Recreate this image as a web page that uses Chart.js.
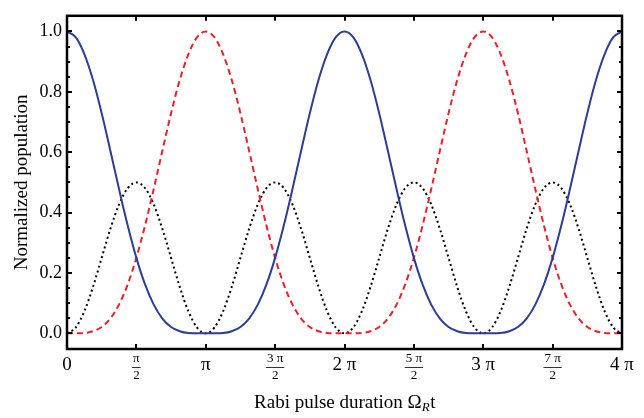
<!DOCTYPE html>
<html>
<head>
<meta charset="utf-8">
<script src="https://cdn.jsdelivr.net/npm/chart.js@4.4.1/dist/chart.umd.min.js"></script>
<style>
  html, body { margin: 0; padding: 0; background: #fff; }
  #wrap { width: 644px; height: 418px; position: relative; }
</style>
</head>
<body>
<div id="wrap"><canvas id="rabi"></canvas></div>
<script>
// pulse duration, in units of pi
var pulse = [0, 0.0625, 0.125, 0.1875, 0.25, 0.3125, 0.375, 0.4375, 0.5, 0.5625, 0.625, 0.6875, 0.75, 0.8125, 0.875, 0.9375,
    1, 1.0625, 1.125, 1.1875, 1.25, 1.3125, 1.375, 1.4375, 1.5, 1.5625, 1.625, 1.6875, 1.75, 1.8125, 1.875, 1.9375,
    2, 2.0625, 2.125, 2.1875, 2.25, 2.3125, 2.375, 2.4375, 2.5, 2.5625, 2.625, 2.6875, 2.75, 2.8125, 2.875, 2.9375,
    3, 3.0625, 3.125, 3.1875, 3.25, 3.3125, 3.375, 3.4375, 3.5, 3.5625, 3.625, 3.6875, 3.75, 3.8125, 3.875, 3.9375, 4];

var ground = [1.000, 0.981, 0.925, 0.839, 0.729, 0.605, 0.478, 0.357, 0.250, 0.162, 0.095, 0.049, 0.021, 0.007, 0.001, 0.000,
    0.000, 0.000, 0.001, 0.007, 0.021, 0.049, 0.095, 0.162, 0.250, 0.357, 0.478, 0.605, 0.729, 0.839, 0.925, 0.981,
    1.000, 0.981, 0.925, 0.839, 0.729, 0.605, 0.478, 0.357, 0.250, 0.162, 0.095, 0.049, 0.021, 0.007, 0.001, 0.000,
    0.000, 0.000, 0.001, 0.007, 0.021, 0.049, 0.095, 0.162, 0.250, 0.357, 0.478, 0.605, 0.729, 0.839, 0.925, 0.981, 1.000];

var excited = [0.000, 0.000, 0.001, 0.007, 0.021, 0.049, 0.095, 0.162, 0.250, 0.357, 0.478, 0.605, 0.729, 0.839, 0.925, 0.981,
    1.000, 0.981, 0.925, 0.839, 0.729, 0.605, 0.478, 0.357, 0.250, 0.162, 0.095, 0.049, 0.021, 0.007, 0.001, 0.000,
    0.000, 0.000, 0.001, 0.007, 0.021, 0.049, 0.095, 0.162, 0.250, 0.357, 0.478, 0.605, 0.729, 0.839, 0.925, 0.981,
    1.000, 0.981, 0.925, 0.839, 0.729, 0.605, 0.478, 0.357, 0.250, 0.162, 0.095, 0.049, 0.021, 0.007, 0.001, 0.000, 0.000];

var middle = [0.000, 0.019, 0.073, 0.154, 0.250, 0.346, 0.427, 0.481, 0.500, 0.481, 0.427, 0.346, 0.250, 0.154, 0.073, 0.019,
    0.000, 0.019, 0.073, 0.154, 0.250, 0.346, 0.427, 0.481, 0.500, 0.481, 0.427, 0.346, 0.250, 0.154, 0.073, 0.019,
    0.000, 0.019, 0.073, 0.154, 0.250, 0.346, 0.427, 0.481, 0.500, 0.481, 0.427, 0.346, 0.250, 0.154, 0.073, 0.019,
    0.000, 0.019, 0.073, 0.154, 0.250, 0.346, 0.427, 0.481, 0.500, 0.481, 0.427, 0.346, 0.250, 0.154, 0.073, 0.019, 0.000];

var xTicks = [0, 0.5, 1, 1.5, 2, 2.5, 3, 3.5, 4];
// [numerator, denominator]; denominator null means a plain label
var xTickLabels = [["0", null], ["\u03c0", "2"], ["\u03c0", null], ["3 \u03c0", "2"], ["2 \u03c0", null],
    ["5 \u03c0", "2"], ["3 \u03c0", null], ["7 \u03c0", "2"], ["4 \u03c0", null]];
var yTicks = [0, 0.2, 0.4, 0.6, 0.8, 1.0];
var yMinor = [0.05, 0.1, 0.15, 0.25, 0.3, 0.35, 0.45, 0.5, 0.55, 0.65, 0.7, 0.75, 0.85, 0.9, 0.95];
var yTitle = 'Normalized population';

var serif = "'Liberation Serif', 'DejaVu Serif', serif";

function points(ys) {
    return ys.map(function (v, i) { return { x: pulse[i], y: v }; });
}

var framePlugin = {
    id: 'frame',
    afterDraw: function (chart) {
        var ctx = chart.ctx, a = chart.chartArea;
        var x = chart.scales.x, y = chart.scales.y;
        ctx.save();
        ctx.strokeStyle = '#000';
        ctx.lineWidth = 2.5;
        ctx.strokeRect(a.left, a.top, a.right - a.left, a.bottom - a.top);

        ctx.lineWidth = 2;
        ctx.beginPath();
        xTicks.forEach(function (v) {
            var px = Math.round(x.getPixelForValue(v));
            ctx.moveTo(px, a.bottom); ctx.lineTo(px, a.bottom - 5);
            ctx.moveTo(px, a.top); ctx.lineTo(px, a.top + 5);
        });
        yTicks.forEach(function (v) {
            var py = Math.round(y.getPixelForValue(v));
            ctx.moveTo(a.left, py); ctx.lineTo(a.left + 5, py);
            ctx.moveTo(a.right, py); ctx.lineTo(a.right - 5, py);
        });
        yMinor.forEach(function (v) {
            var py = Math.round(y.getPixelForValue(v));
            ctx.moveTo(a.left, py); ctx.lineTo(a.left + 3, py);
            ctx.moveTo(a.right, py); ctx.lineTo(a.right - 3, py);
        });
        ctx.stroke();

        // x tick labels, with stacked fractions
        ctx.fillStyle = '#000';
        ctx.textAlign = 'center';
        ctx.textBaseline = 'middle';
        xTicks.forEach(function (v, i) {
            var px = x.getPixelForValue(v);
            var lab = xTickLabels[i];
            if (lab[1] === null) {
                ctx.font = '19px ' + serif;
                ctx.fillText(lab[0], px, a.bottom + 16);
            } else {
                ctx.font = '13px ' + serif;
                ctx.fillText(lab[0], px, a.bottom + 10);
                ctx.fillText(lab[1], px, a.bottom + 27);
                var w = ctx.measureText(lab[0]).width + 2;
                ctx.lineWidth = 0.8;
                ctx.beginPath();
                ctx.moveTo(px - w / 2, a.bottom + 18.5);
                ctx.lineTo(px + w / 2, a.bottom + 18.5);
                ctx.stroke();
            }
        });

        // x axis title: Rabi pulse duration Ω_R t
        var cx = (a.left + a.right) / 2, ty = a.bottom + 59;
        var main = 'Rabi pulse duration \u03a9';
        ctx.font = '19px ' + serif;
        var w1 = ctx.measureText(main).width;
        ctx.font = 'italic 13px ' + serif;
        var w2 = ctx.measureText('R').width;
        ctx.font = '19px ' + serif;
        var w3 = ctx.measureText('t').width;
        var sx = cx - (w1 + w2 + w3) / 2;
        ctx.textAlign = 'left';
        ctx.textBaseline = 'alphabetic';
        ctx.fillText(main, sx, ty);
        ctx.font = 'italic 13px ' + serif;
        ctx.fillText('R', sx + w1, ty + 3);
        ctx.font = '19px ' + serif;
        ctx.fillText('t', sx + w1 + w2 + 0.5, ty);

        // y axis title, rotated
        ctx.translate(22, (a.top + a.bottom) / 2);
        ctx.rotate(-Math.PI / 2);
        ctx.textAlign = 'center';
        ctx.textBaseline = 'middle';
        ctx.font = '19px ' + serif;
        ctx.fillText(yTitle, 0, 0);
        ctx.restore();
    }
};

var ctx = document.getElementById('rabi').getContext('2d');
var chart = new Chart(ctx, {
    type: 'line',
    data: {
        datasets: [{
            label: 'ground',
            data: points(ground),
            borderColor: '#2c3d96',
            borderWidth: 2,
            pointRadius: 0,
            cubicInterpolationMode: 'monotone',
            fill: false
        }, {
            label: 'excited',
            data: points(excited),
            borderColor: '#e8202a',
            borderWidth: 2,
            borderDash: [6, 4],
            pointRadius: 0,
            cubicInterpolationMode: 'monotone',
            fill: false
        }, {
            label: 'middle',
            data: points(middle),
            borderColor: '#000',
            borderWidth: 2,
            borderDash: [2, 3],
            pointRadius: 0,
            cubicInterpolationMode: 'monotone',
            fill: false
        }]
    },
    options: {
        animation: false,
        responsive: true,
        maintainAspectRatio: false,
        layout: { padding: { left: 0, right: 22, top: 7, bottom: 0 } },
        plugins: { legend: { display: false }, tooltip: { enabled: false } },
        scales: {
            x: {
                type: 'linear',
                min: 0,
                max: 4,
                grid: { display: false, drawTicks: false },
                border: { display: false },
                ticks: { display: false },
                afterBuildTicks: function (s) { s.ticks = xTicks.map(function (v) { return { value: v }; }); },
                afterFit: function (s) { s.height = 69; }
            },
            y: {
                type: 'linear',
                min: -0.052,
                max: 1.052,
                grid: { display: false, drawTicks: false },
                border: { display: false },
                afterBuildTicks: function (s) { s.ticks = yTicks.map(function (v) { return { value: v }; }); },
                afterFit: function (s) { s.width = 67; },
                ticks: {
                    padding: 5,
                    color: '#000',
                    font: { family: serif, size: 18 },
                    callback: function (v) { return v.toFixed(1); }
                }
            }
        }
    },
    plugins: [framePlugin]
});
</script>
</body>
</html>
